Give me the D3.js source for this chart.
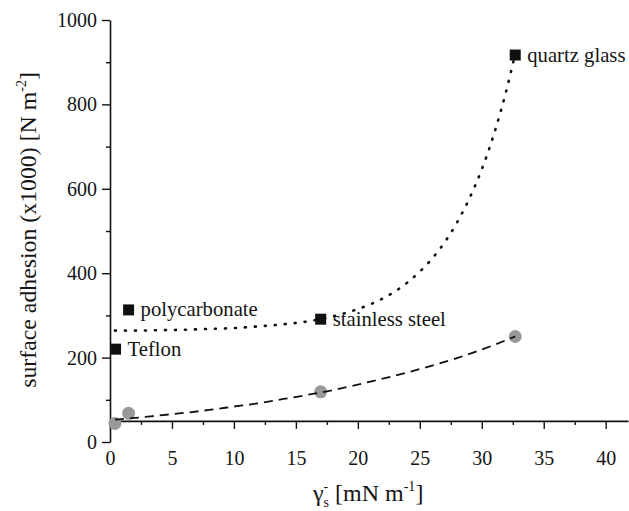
<!DOCTYPE html>
<html>
<head>
<meta charset="utf-8">
<script src="https://cdn.jsdelivr.net/npm/d3@7"></script>
<style>
  html, body { margin: 0; padding: 0; background: #ffffff; }
  svg { display: block; }
  text { font-family: "Liberation Serif", "Times New Roman", serif; fill: #151515; }
</style>
</head>
<body>
<svg id="chart" width="629" height="511"></svg>
<script>
// ---- data ----
const materialLabels = ["Teflon", "polycarbonate", "stainless steel", "quartz glass"];
const squareX = [0.45, 1.5, 17.0, 32.7];
const squareY = [220, 313, 291, 917];
const circleX = [0.4, 1.5, 17.0, 32.7];
const circleY = [44, 68, 119, 250];

// dotted fit curve (upper)
const dottedX = [0.4, 2, 4, 6, 8, 10, 12, 14, 16, 18, 20, 22, 24, 26, 27, 28, 29, 30, 31, 32, 32.7];
const dottedY = [264, 264, 265, 266, 268, 270, 274, 279, 286, 298, 315, 340, 378, 435, 473, 520, 577, 646, 731, 835, 920];

// dashed fit curve (lower)
const dashedX = [0.4, 2, 4, 6, 8, 10, 12, 14, 16, 18, 20, 22, 24, 26, 28, 30, 32.7];
const dashedY = [53, 57, 63, 69, 76, 84, 92, 102, 112, 123, 136, 150, 165, 181, 199, 219, 250];

const xTicks = [0, 5, 10, 15, 20, 25, 30, 35, 40];
const xMinorTicks = [2.5, 7.5, 12.5, 17.5, 22.5, 27.5, 32.5, 37.5];
const yTicks = [0, 200, 400, 600, 800, 1000];
const yMinorTicks = [100, 300, 500, 700, 900];

// ---- drawing ----
const svg = d3.select("#chart");
const x = d3.scaleLinear().domain([0, 41.8]).range([110, 628]);
const y = d3.scaleLinear().domain([0, 1000]).range([442, 20]);
const xAxisAt = 50; // x axis crosses the y axis at this value

// y axis
const gy = svg.append("g").attr("transform", `translate(${x(0)},0)`);
gy.call(d3.axisLeft(y).tickValues(yTicks).tickSize(8).tickSizeOuter(0).tickPadding(5).tickFormat(d3.format("d")));
gy.append("g").call(d3.axisLeft(y).tickValues(yMinorTicks).tickSize(4).tickSizeOuter(0).tickFormat(""))
  .select(".domain").remove();

// x axis
const gx = svg.append("g").attr("transform", `translate(0,${y(xAxisAt)})`);
gx.call(d3.axisBottom(x).tickValues(xTicks).tickSize(8).tickSizeOuter(0).tickPadding(22).tickFormat(d3.format("d")));
gx.append("g").call(d3.axisBottom(x).tickValues(xMinorTicks).tickSize(4).tickSizeOuter(0).tickFormat(""))
  .select(".domain").remove();

svg.selectAll("g").attr("font-family", "Liberation Serif");
svg.selectAll(".domain").attr("stroke", "#111").attr("stroke-width", 1.6);
svg.selectAll(".tick line").attr("stroke", "#111").attr("stroke-width", 1.4);
svg.selectAll(".tick text").attr("font-size", 20).attr("fill", "#151515");

// markers
svg.append("g").selectAll("circle")
  .data(circleX.map((d, i) => [d, circleY[i]]))
  .join("circle")
  .attr("cx", d => x(d[0])).attr("cy", d => y(d[1]))
  .attr("r", 6.5).attr("fill", "#999999");

const sq = 11;
svg.append("g").selectAll("rect")
  .data(squareX.map((d, i) => [d, squareY[i]]))
  .join("rect")
  .attr("x", d => x(d[0]) - sq / 2).attr("y", d => y(d[1]) - sq / 2)
  .attr("width", sq).attr("height", sq).attr("fill", "#111111");

svg.append("g").selectAll("text")
  .data(materialLabels.map((t, i) => ({ t, xv: squareX[i], yv: squareY[i] })))
  .join("text")
  .attr("x", d => x(d.xv) + 12).attr("y", d => y(d.yv) + 6.5)
  .attr("font-size", 20.7)
  .text(d => d.t);

// fit curves
const line = d3.line().x(d => x(d[0])).y(d => y(d[1])).curve(d3.curveMonotoneX);
svg.append("path")
  .datum(dashedX.map((d, i) => [d, dashedY[i]]))
  .attr("d", line).attr("fill", "none")
  .attr("stroke", "#111").attr("stroke-width", 1.8)
  .attr("stroke-dasharray", "9,6");
svg.append("path")
  .datum(dottedX.map((d, i) => [d, dottedY[i]]))
  .attr("d", line).attr("fill", "none")
  .attr("stroke", "#111").attr("stroke-width", 2.6)
  .attr("stroke-linecap", "round")
  .attr("stroke-dasharray", "1,9");

// axis titles
const xt = svg.append("text").attr("x", 313).attr("y", 501).attr("font-size", 24);
xt.append("tspan").text("γ");
xt.append("tspan").attr("font-size", 14).attr("dy", -10).text("-");
xt.append("tspan").attr("font-size", 14).attr("dx", -4.7).attr("dy", 16).text("s");
xt.append("tspan").attr("font-size", 24).attr("dy", -6).text(" [mN m");
xt.append("tspan").attr("font-size", 14).attr("dy", -10).text("-1");
xt.append("tspan").attr("font-size", 24).attr("dy", 10).text("]");

const yt = svg.append("text")
  .attr("transform", "translate(36,230) rotate(-90)")
  .attr("text-anchor", "middle").attr("font-size", 23.8);
yt.append("tspan").text("surface adhesion (x1000) [N m");
yt.append("tspan").attr("font-size", 14).attr("dy", -10).text("-2");
yt.append("tspan").attr("font-size", 23.8).attr("dy", 10).text("]");
</script>
</body>
</html>
